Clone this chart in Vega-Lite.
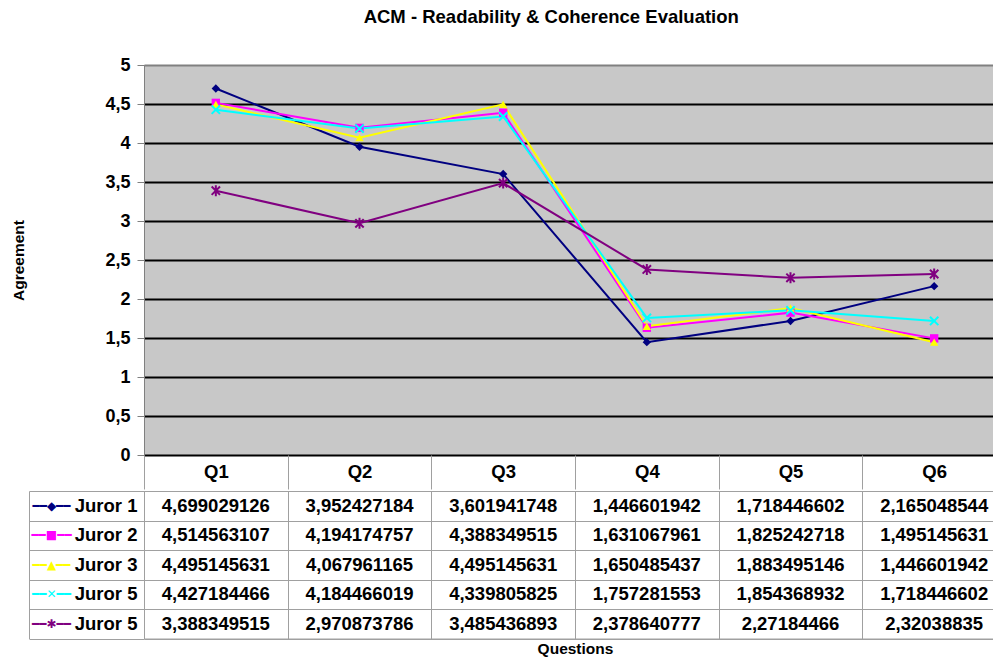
{
  "$schema": "https://vega.github.io/schema/vega-lite/v6.json",
  "padding": {"left": 11, "top": 8, "right": 0, "bottom": 0},
  "background": "white",
  "config": {
    "locale": {"number": {"decimal": ",", "thousands": ".", "grouping": [3], "currency": ["", " €"]}},
    "font": "Liberation Sans",
    "axis": {"labelFont": "Liberation Sans", "titleFont": "Liberation Sans", "labelFontWeight": "bold", "titleFontWeight": "bold", "labelColor": "black", "titleColor": "black"}
  },
  "title": {"text": "ACM - Readability & Coherence Evaluation", "fontSize": 18.5, "font": "Liberation Sans", "fontWeight": "bold", "anchor": "middle", "offset": 29, "dx": 42, "color": "black"},
  "datasets": {
    "scores": [
      {"juror": "J1", "q": "Q1", "value": 4.699029126},
      {"juror": "J1", "q": "Q2", "value": 3.952427184},
      {"juror": "J1", "q": "Q3", "value": 3.601941748},
      {"juror": "J1", "q": "Q4", "value": 1.446601942},
      {"juror": "J1", "q": "Q5", "value": 1.718446602},
      {"juror": "J1", "q": "Q6", "value": 2.165048544},
      {"juror": "J2", "q": "Q1", "value": 4.514563107},
      {"juror": "J2", "q": "Q2", "value": 4.194174757},
      {"juror": "J2", "q": "Q3", "value": 4.388349515},
      {"juror": "J2", "q": "Q4", "value": 1.631067961},
      {"juror": "J2", "q": "Q5", "value": 1.825242718},
      {"juror": "J2", "q": "Q6", "value": 1.495145631},
      {"juror": "J3", "q": "Q1", "value": 4.495145631},
      {"juror": "J3", "q": "Q2", "value": 4.067961165},
      {"juror": "J3", "q": "Q3", "value": 4.495145631},
      {"juror": "J3", "q": "Q4", "value": 1.650485437},
      {"juror": "J3", "q": "Q5", "value": 1.883495146},
      {"juror": "J3", "q": "Q6", "value": 1.446601942},
      {"juror": "J5a", "q": "Q1", "value": 4.427184466},
      {"juror": "J5a", "q": "Q2", "value": 4.184466019},
      {"juror": "J5a", "q": "Q3", "value": 4.339805825},
      {"juror": "J5a", "q": "Q4", "value": 1.757281553},
      {"juror": "J5a", "q": "Q5", "value": 1.854368932},
      {"juror": "J5a", "q": "Q6", "value": 1.718446602},
      {"juror": "J5b", "q": "Q1", "value": 3.388349515},
      {"juror": "J5b", "q": "Q2", "value": 2.970873786},
      {"juror": "J5b", "q": "Q3", "value": 3.485436893},
      {"juror": "J5b", "q": "Q4", "value": 2.378640777},
      {"juror": "J5b", "q": "Q5", "value": 2.27184466},
      {"juror": "J5b", "q": "Q6", "value": 2.32038835}
    ]
  },
  "spacing": 0,
  "resolve": {"scale": {"x": "independent", "y": "independent"}},
  "vconcat": [
    {
      "width": 862,
      "height": 390,
      "data": {"name": "scores"},
      "view": {"fill": "#C8C8C8", "stroke": "#808080", "strokeWidth": 1},
      "encoding": {
        "x": {"field": "q", "type": "nominal", "scale": {"paddingInner": 0, "paddingOuter": 0},
          "axis": {"title": null, "labelAngle": 0, "labelFontSize": 18.5, "tickBand": "extent", "tickSize": 34, "tickColor": "#A0A0A0", "labelPadding": -26.5, "domain": false, "grid": false}},
        "y": {"field": "value", "type": "quantitative", "scale": {"domain": [0, 5], "nice": false},
          "axis": {"title": "Agreement", "titleFontSize": 15.5, "titlePadding": 78, "tickCount": 10, "format": "~g", "labelFontSize": 18, "tickSize": 7, "tickColor": "#808080", "labelPadding": 7,
            "gridColor": {"condition": {"test": "datum.value === 5", "value": "#808080"}, "value": "#000000"}, "gridWidth": 2, "domainColor": "#808080"}},
        "color": {"field": "juror", "type": "nominal", "scale": {"domain": ["J1", "J2", "J3", "J5a", "J5b"], "range": ["#000080", "#FF00FF", "#FFFF00", "#00FFFF", "#800080"]}, "legend": null}
      },
      "layer": [
        {"mark": {"type": "line", "strokeWidth": 2}},
        {"transform": [{"filter": "datum.juror === 'J1' || datum.juror === 'J2' || datum.juror === 'J3'"}],
         "mark": {"type": "point", "filled": true, "size": 70, "opacity": 1},
         "encoding": {"shape": {"field": "juror", "type": "nominal", "scale": {"domain": ["J1", "J2", "J3", "J5a", "J5b"], "range": ["diamond", "square", "triangle-up", "M-1,-1L1,1M1,-1L-1,1", "M-1,-1L1,1M1,-1L-1,1M0,-1.3L0,1.3"]}, "legend": null}}},
        {"transform": [{"filter": "datum.juror === 'J5a' || datum.juror === 'J5b'"}],
         "mark": {"type": "point", "filled": false, "size": 70, "strokeWidth": 2, "opacity": 1},
         "encoding": {"shape": {"field": "juror", "type": "nominal", "scale": {"domain": ["J1", "J2", "J3", "J5a", "J5b"], "range": ["diamond", "square", "triangle-up", "M-1,-1L1,1M1,-1L-1,1", "M-1,-1L1,1M1,-1L-1,1M0,-1.3L0,1.3"]}, "legend": null}}}
      ]
    },
    {
      "width": 862,
      "height": 147.5,
      "data": {"name": "scores"},
      "view": {"stroke": "#A0A0A0", "strokeWidth": 1},
      "layer": [
        {
          "mark": {"type": "text", "font": "Liberation Sans", "fontWeight": "bold", "fontSize": 18.5, "color": "black"},
          "encoding": {
            "x": {"field": "q", "type": "nominal", "scale": {"paddingInner": 0, "paddingOuter": 0},
              "axis": {"title": "Questions", "titleFontSize": 15.5, "titlePadding": 3, "labels": false, "ticks": false, "domain": false, "grid": true, "tickBand": "extent", "gridColor": "#A0A0A0", "gridWidth": 1}},
            "y": {"field": "juror", "type": "nominal", "sort": ["J1", "J2", "J3", "J5a", "J5b"], "scale": {"paddingInner": 0, "paddingOuter": 0},
              "axis": {"orient": "left", "title": null, "grid": false, "ticks": false, "labelPadding": 7, "labelFontSize": 18.5,
                "labelExpr": "datum.value === 'J1' ? 'Juror 1' : datum.value === 'J2' ? 'Juror 2' : datum.value === 'J3' ? 'Juror 3' : 'Juror 5'", "domain": false}},
            "text": {"field": "value", "type": "quantitative", "format": ".10~g"}
          }
        },
        {
          "mark": {"type": "point", "opacity": 0},
          "encoding": {
            "x": {"field": "q", "type": "nominal", "axis": null},
            "y": {"field": "juror", "type": "nominal", "sort": ["J1", "J2", "J3", "J5a", "J5b"],
              "axis": {"orient": "left", "title": null, "labels": false, "grid": true, "tickBand": "extent", "gridColor": "#A0A0A0", "ticks": true, "tickSize": 115, "tickColor": "#A0A0A0", "domain": true, "domainColor": "#A0A0A0"}}
          }
        },
        {
          "mark": {"type": "point", "opacity": 0},
          "encoding": {
            "x": {"field": "q", "type": "nominal", "axis": null},
            "y": {"field": "juror", "type": "nominal", "sort": ["J1", "J2", "J3", "J5a", "J5b"],
              "axis": {"orient": "left", "offset": 115, "title": null, "ticks": false, "tickSize": 0, "grid": false, "labelPadding": -22, "labelAlign": "center", "labelFont": "DejaVu Sans", "labelFontSize": 12, "labelFontWeight": "normal",
                "labelExpr": "datum.value === 'J1' ? '━━◆━━' : datum.value === 'J2' ? '━━■━━' : datum.value === 'J3' ? '━━▲━━' : datum.value === 'J5a' ? '━━✕━━' : '━━✱━━'",
                "labelColor": {"condition": [{"test": "datum.value === 'J1'", "value": "#000080"}, {"test": "datum.value === 'J2'", "value": "#FF00FF"}, {"test": "datum.value === 'J3'", "value": "#FFFF00"}, {"test": "datum.value === 'J5a'", "value": "#00FFFF"}], "value": "#800080"},
                "domainColor": "#A0A0A0"}}
          }
        }
      ],
      "resolve": {"axis": {"y": "independent", "x": "independent"}}
    }
  ]
}
